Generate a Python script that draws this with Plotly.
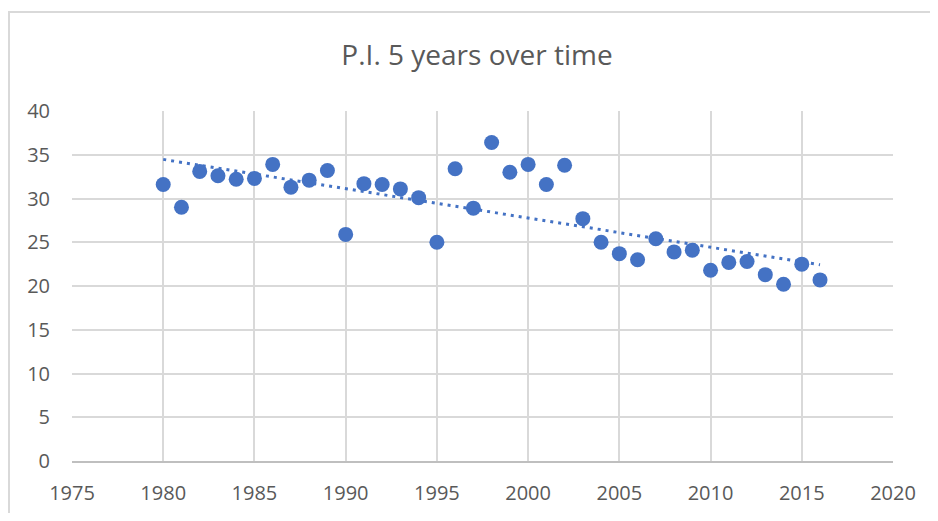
import numpy as np
import plotly.graph_objects as go

years = list(range(1980, 2017))
pi_values = [31.6, 29.0, 33.1, 32.6, 32.2, 32.3, 33.9, 31.3, 32.1, 33.2,
             25.9, 31.7, 31.6, 31.1, 30.1, 25.0, 33.4, 28.9, 36.4, 33.0,
             33.9, 31.6, 33.8, 27.7, 25.0, 23.7, 23.0, 25.4, 23.9, 24.1,
             21.8, 22.7, 22.8, 21.3, 20.2, 22.5, 20.7]
x_ticks = list(range(1975, 2021, 5))
y_ticks = list(range(0, 41, 5))
title_text = "P.I. 5 years over time"

blue = "#4472C4"
txt = "#595959"
grid = "#d9d9d9"

# linear trendline computed from the data
coef = np.polyfit(years, pi_values, 1)
trend_x = [min(years), max(years)]
trend_y = list(np.polyval(coef, trend_x))

# page body has an 8px margin: figure coords = screen coords - 8
W, H = 922, 505
L, R, T, B = 64, 885, 103, 453

fig = go.Figure()
fig.add_trace(go.Scatter(
    x=trend_x, y=trend_y, mode="lines",
    line=dict(color=blue, width=3, dash="3px,5px"),
    hoverinfo="skip", showlegend=False))
fig.add_trace(go.Scatter(
    x=years, y=pi_values, mode="markers",
    marker=dict(color=blue, size=15, line=dict(width=0)),
    showlegend=False))

pw, ph = R - L, B - T
fig.update_layout(
    width=W, height=H,
    margin=dict(l=L, r=W - R, t=T, b=H - B, autoexpand=False),
    paper_bgcolor="white", plot_bgcolor="white",
    font=dict(family="Open Sans", color=txt, size=20),
    title=dict(text=title_text, x=(469 - L) / pw, xref="paper",
               xanchor="center", y=1 - 47 / H, yanchor="middle",
               font=dict(family="Open Sans", size=28, color=txt)),
    xaxis=dict(range=[1975, 2020], tickvals=x_ticks, showgrid=True,
               gridcolor=grid, gridwidth=1.5, zeroline=False,
               showline=True, linecolor="#bfbfbf", linewidth=1.5,
               ticks="", ticklabelstandoff=13, automargin=False,
               tickfont=dict(size=20, color=txt)),
    yaxis=dict(range=[0, 40], tickvals=y_ticks, showgrid=True,
               gridcolor=grid, gridwidth=1.5, zeroline=False,
               showline=False, ticks="", ticklabelstandoff=21,
               automargin=False,
               tickfont=dict(size=20, color=txt)),
    shapes=[dict(type="rect", xref="paper", yref="paper",
                 x0=(1 - L) / pw, x1=(960 - L) / pw,
                 y0=(B - 560) / ph, y1=(B - 4) / ph,
                 line=dict(color="#d9d9d9", width=2), layer="below")],
)

fig.write_html("out.html")
